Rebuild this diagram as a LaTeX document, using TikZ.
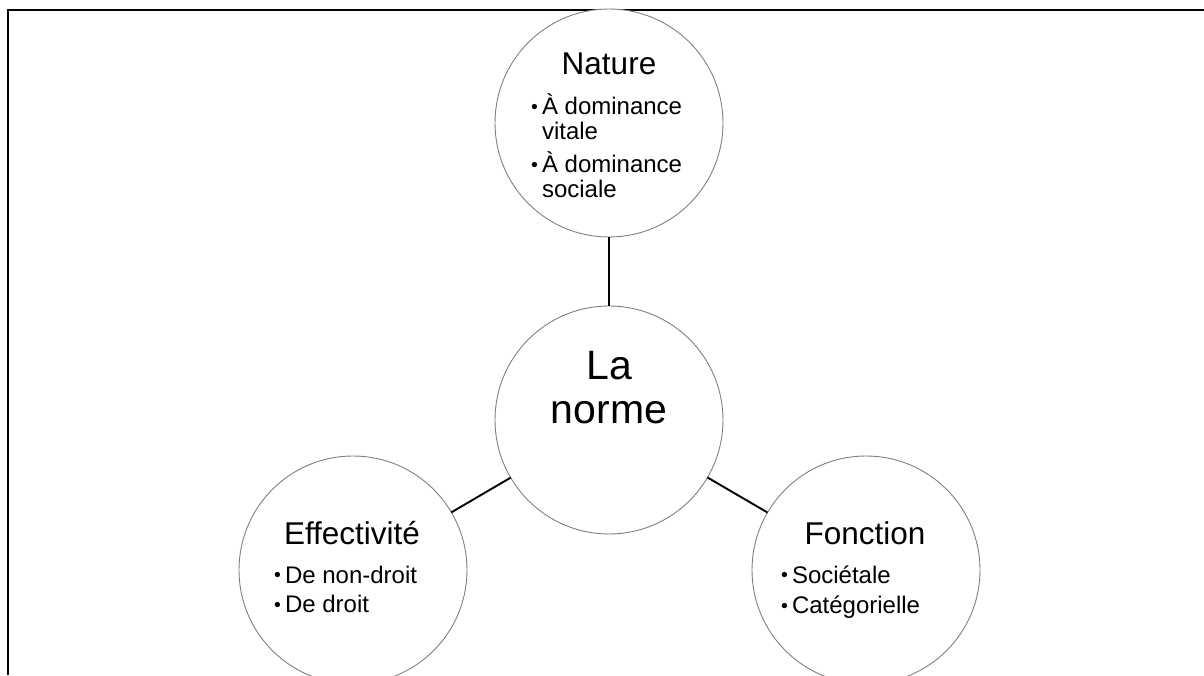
\documentclass[tikz,border=0pt]{standalone}
\usepackage{fontspec}
\setmainfont{Liberation Sans}
\newcommand{\petalbullet}{\raisebox{1.2pt}{\fontsize{19.5}{19.5}\selectfont •}}

\begin{document}
\begin{tikzpicture}[x=1pt,y=1pt,
    petal/.style={circle,draw=black!50,line width=.9pt,fill=white,minimum size=228pt,inner sep=0pt,outer sep=0pt},
    link/.style={draw=black,line width=1.9pt},
    title/.style={anchor=base,inner sep=0pt,font=\fontsize{31.5}{31.5}\selectfont},
    items/.style={anchor=base west,inner sep=0pt,font=\fontsize{24}{23.5}\selectfont},
    hubtext/.style={anchor=base,inner sep=0pt,font=\fontsize{41}{44}\selectfont}]
    \useasboundingbox (0,0) rectangle (1204,675);
    \draw[line width=2pt] (8,0) -- (8,665) -- (1204,665);

    \node[petal] (norme) at (609,255) {};
    \node[petal] (nature) at (609,552) {};
    \node[petal] (effect) at (353,105) {};
    \node[petal] (fonct) at (866,105) {};

    \draw[link] (nature) -- (norme);
    \draw[link] (norme) -- (effect);
    \draw[link] (norme) -- (fonct);

    \node[hubtext] (normeT) at (609,295) {\begin{tabular}[t]{@{}c@{}}La\\norme\end{tabular}};

    \node[title] (natureT) at (609,600) {Nature};
    \node[items] (natureL) at (531,560) {\begin{tabular}[t]{@{}l@{\hspace{4pt}}l@{}}
        \petalbullet&À dominance\\ &vitale\\[5.5pt]
        \petalbullet&À dominance\\ &sociale\end{tabular}};

    \node[title] (effectT) at (352,131) {Effectivité};
    \node[items] (effectL) at (274,92) {\begin{tabular}[t]{@{}l@{\hspace{4pt}}l@{}}
        \petalbullet&De non-droit\\[5.5pt]
        \petalbullet&De droit\end{tabular}};

    \node[title] (fonctT) at (865,131) {Fonction};
    \node[items] (fonctL) at (781,92) {\begin{tabular}[t]{@{}l@{\hspace{4pt}}l@{}}
        \petalbullet&Sociétale\\[5.5pt]
        \petalbullet&Catégorielle\end{tabular}};
\end{tikzpicture}
\end{document}
